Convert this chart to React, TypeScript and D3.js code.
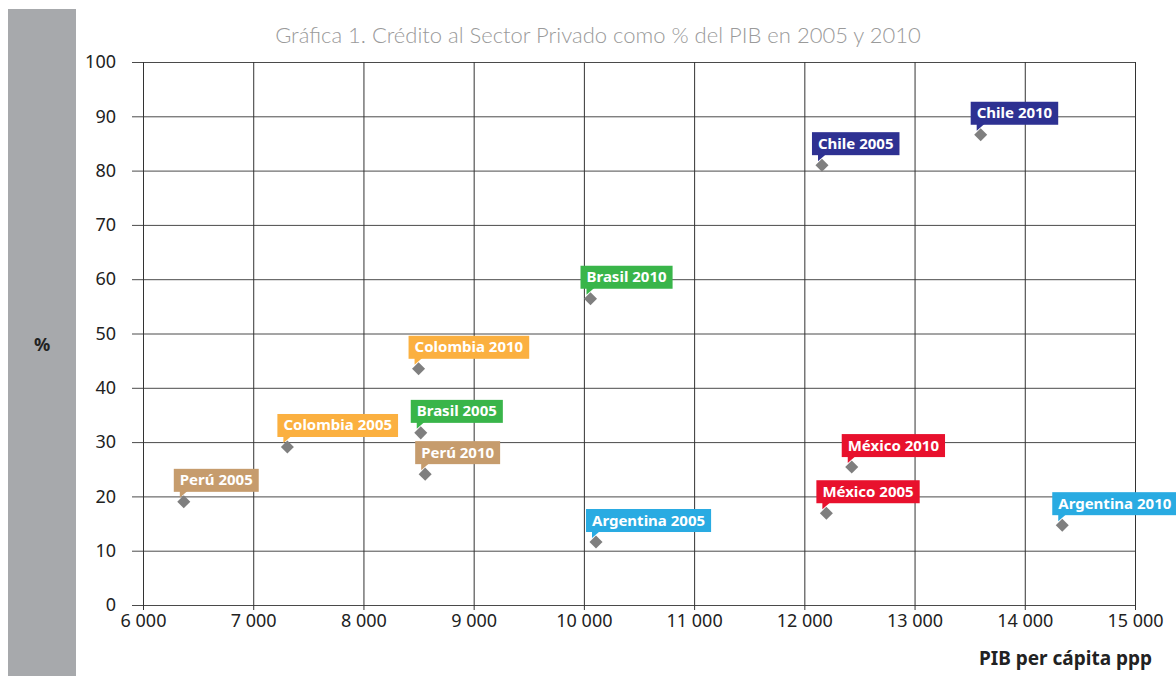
import React, { useEffect, useRef } from "react";
import * as d3 from "d3";

const labels = [
  "Perú 2005", "Colombia 2005", "Perú 2010", "Brasil 2005", "Colombia 2010", "Brasil 2010",
  "Argentina 2005", "Chile 2005", "Chile 2010", "México 2005", "México 2010", "Argentina 2010",
];
const pibValues = [6370, 7310, 8560, 8520, 8500, 10060, 10110, 12160, 13600, 12200, 12430, 14340];
const creditValues = [19.0, 29.1, 24.1, 31.7, 43.5, 56.4, 11.6, 81.0, 86.6, 16.9, 25.4, 14.7];
const countryColors: Record<string, string> = {
  "Perú": "#c69c6d",
  "Colombia": "#fbb040",
  "Brasil": "#39b54a",
  "Argentina": "#29abe2",
  "Chile": "#2e3192",
  "México": "#e8112d",
};
const xTicks = [6000, 7000, 8000, 9000, 10000, 11000, 12000, 13000, 14000, 15000];
const yTicks = [0, 10, 20, 30, 40, 50, 60, 70, 80, 90, 100];

const App: React.FC = () => {
  const svgRef = useRef<SVGSVGElement>(null);

  useEffect(() => {
    const svg = d3.select(svgRef.current);
    svg.selectAll("*").remove();

    const margin = { left: 143, top: 62, right: 1176 - 1135, bottom: 676 - 605 };
    const width = 1176;
    const height = 676;
    const innerH = height - margin.top - margin.bottom;

    const x = d3.scaleLinear().domain([6000, 15000]).range([margin.left, width - margin.right]);
    const y = d3.scaleLinear().domain([0, 100]).range([height - margin.bottom, margin.top]);

    const locale = d3.formatLocale({ decimal: ",", thousands: " ", grouping: [3], currency: ["", ""] });
    const fmt = locale.format(",d");

    // barra gris izquierda
    svg.append("rect").attr("x", 8).attr("y", 9).attr("width", 68).attr("height", 667).attr("fill", "#a7a9ac");

    svg.append("text")
      .text("Gráfica 1. Crédito al Sector Privado como % del PIB en 2005 y 2010")
      .attr("x", 598).attr("y", 43)
      .attr("text-anchor", "middle")
      .attr("font-family", "Lato")
      .attr("font-weight", 300)
      .attr("font-size", 22)
      .attr("fill", "#9a9a9a");

    // ejes y rejilla
    const gy = svg.append("g").attr("transform", `translate(${margin.left},0)`)
      .call(d3.axisLeft(y).tickValues(yTicks).tickSize(-(width - margin.left - margin.right)).tickSizeOuter(0));
    gy.select(".domain").remove();
    gy.selectAll(".tick line").attr("stroke", "#4a4a4a").attr("x1", -11);
    gy.selectAll(".tick text").attr("x", -27).attr("font-family", "Noto Sans").attr("font-size", 18).attr("fill", "#222");

    const gx = svg.append("g").attr("transform", `translate(0,${height - margin.bottom})`)
      .call(d3.axisBottom(x).tickValues(xTicks).tickFormat((d) => fmt(d as number)).tickSize(-innerH).tickSizeOuter(0));
    gx.select(".domain").remove();
    gx.selectAll(".tick line").attr("stroke", "#333").attr("y1", 5);
    gx.selectAll(".tick text").attr("y", 9).attr("font-family", "Noto Sans").attr("font-size", 18).attr("fill", "#222");

    svg.append("text").text("%")
      .attr("x", 42).attr("y", 351).attr("text-anchor", "middle")
      .attr("font-family", "Noto Sans").attr("font-weight", "bold").attr("font-size", 18).attr("fill", "#222");

    svg.append("text").text("PIB per cápita ppp")
      .attr("x", 1152).attr("y", 665).attr("text-anchor", "end")
      .attr("font-family", "Noto Sans").attr("font-weight", "bold").attr("font-size", 19).attr("fill", "#222");

    // puntos y etiquetas
    const pts = labels.map((name, i) => ({ name, px: x(pibValues[i]), py: y(creditValues[i]), color: countryColors[name.split(" ")[0]] }));

    const marks = svg.append("g");
    pts.forEach((p) => {
      marks.append("path")
        .attr("d", d3.symbol(d3.symbolSquare, 85)())
        .attr("transform", `translate(${p.px},${p.py}) rotate(45)`)
        .attr("fill", "#7f7f7f");
    });

    pts.forEach((p) => {
      const g = svg.append("g");
      const bx = p.px - 10;
      const bottom = p.py - 10;
      const boxH = 23;
      const t = g.append("text").text(p.name)
        .attr("x", bx + 6).attr("y", bottom - 6.5)
        .attr("font-family", "Noto Sans").attr("font-weight", "bold").attr("font-size", 15)
        .attr("fill", "#fff");
      const tw = (t.node() as SVGTextElement).getComputedTextLength();
      g.insert("rect", "text")
        .attr("x", bx).attr("y", bottom - boxH).attr("width", tw + 12).attr("height", boxH)
        .attr("fill", p.color);
      g.insert("path", "text")
        .attr("d", `M${bx + 6},${bottom - 1}L${bx + 14},${bottom - 1}L${bx + 6},${bottom + 6}Z`)
        .attr("fill", p.color);
    });
  }, []);

  return (
    <svg ref={svgRef} width={1176} height={676} style={{ position: "absolute", left: 0, top: 0, background: "#fff" }} />
  );
};

export default App;
